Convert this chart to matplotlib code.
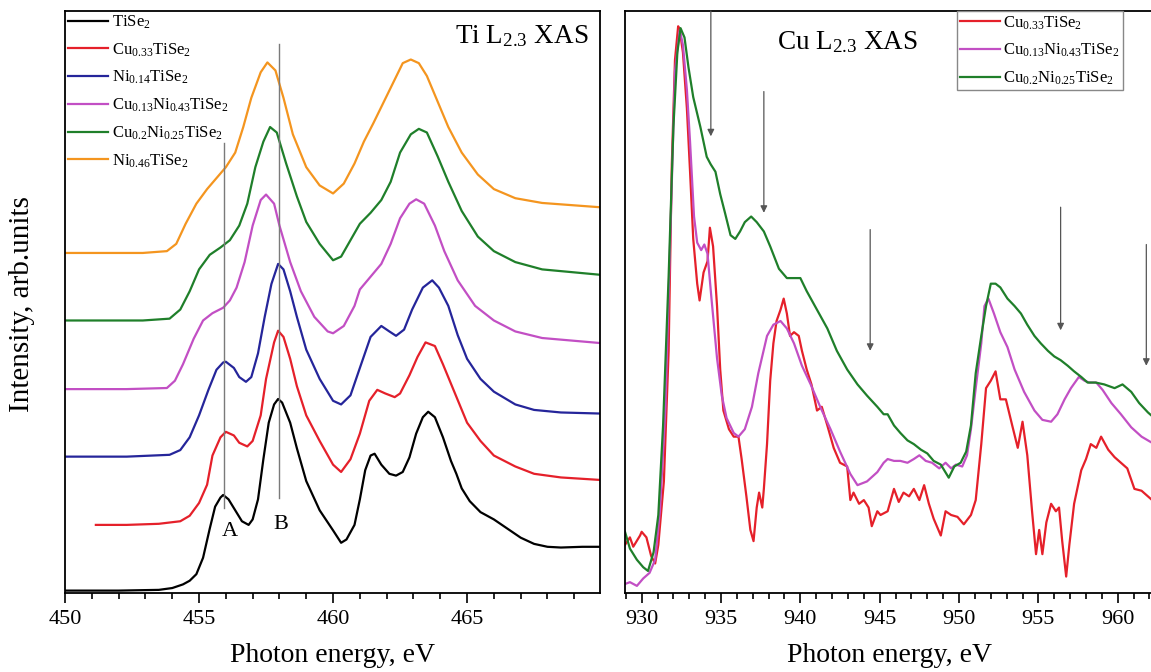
#!/usr/bin/env python3
"""Ti L2,3 and Cu L2,3 XAS spectra of intercalated TiSe2 (two panels, offset curves)."""
import matplotlib
matplotlib.use("Agg")
import matplotlib.pyplot as plt
from matplotlib.ticker import MultipleLocator

plt.rcParams["font.family"] = ["Liberation Serif", "DejaVu Serif"]
plt.rcParams["mathtext.fontset"] = "custom"
plt.rcParams["mathtext.rm"] = "Liberation Serif"
plt.rcParams["mathtext.it"] = "Liberation Serif:italic"

# ---- Ti L2,3 spectra (photon energy eV, intensity arb. units incl. vertical offset) ----
TI_E_TISE2 = [450.0, 452.0, 453.5, 454.0, 454.4, 454.65, 454.9, 455.15, 455.4, 455.6, 455.8, 455.9,
              456.1, 456.35, 456.6, 456.85, 457.0, 457.2, 457.4, 457.6, 457.8, 457.95, 458.1, 458.4,
              458.65, 459.0, 459.5, 460.0, 460.3, 460.5, 460.8, 461.0, 461.2, 461.4, 461.55, 461.8,
              462.1, 462.35, 462.6, 462.85, 463.1, 463.35, 463.55, 463.8, 464.1, 464.4, 464.6, 464.8,
              465.1, 465.5, 466.0, 466.5, 467.0, 467.5, 468.0, 468.5, 469.3, 470.0]
TI_I_TISE2 = [0.35, 0.35, 0.37, 0.42, 0.52, 0.62, 0.80, 1.25, 2.05, 2.65, 2.90, 2.97,
              2.85, 2.55, 2.25, 2.15, 2.30, 2.85, 3.95, 4.95, 5.45, 5.60, 5.50, 4.95,
              4.25, 3.35, 2.55, 2.00, 1.66, 1.75, 2.15, 2.85, 3.65, 4.05, 4.10, 3.80,
              3.55, 3.50, 3.60, 4.00, 4.65, 5.10, 5.25, 5.10, 4.55, 3.90, 3.55, 3.15,
              2.80, 2.50, 2.30, 2.05, 1.80, 1.63, 1.55, 1.53, 1.55, 1.55]

TI_E_CU033 = [451.15, 452.3, 453.5, 454.3, 454.65, 455.0, 455.3, 455.5, 455.8, 456.0, 456.3, 456.5,
              456.8, 457.0, 457.3, 457.5, 457.8, 457.95, 458.15, 458.4, 458.65, 459.0, 459.5, 460.0,
              460.3, 460.65, 461.0, 461.35, 461.65, 461.95, 462.3, 462.5, 462.85, 463.15, 463.45,
              463.8, 464.1, 464.55, 465.0, 465.5, 466.0, 466.8, 467.5, 468.5, 470.0]
TI_I_CU033 = [2.15, 2.15, 2.18, 2.25, 2.40, 2.75, 3.25, 4.05, 4.55, 4.70, 4.60, 4.40,
              4.30, 4.45, 5.15, 6.15, 7.15, 7.47, 7.30, 6.70, 5.95, 5.15, 4.45, 3.80,
              3.60, 3.95, 4.65, 5.55, 5.85, 5.75, 5.65, 5.75, 6.25, 6.75, 7.15,
              7.05, 6.55, 5.75, 4.95, 4.45, 4.05, 3.75, 3.55, 3.45, 3.38]

TI_E_NI014 = [450.0, 452.3, 453.9, 454.3, 454.65, 455.0, 455.35, 455.65, 455.9, 456.0, 456.3, 456.5,
              456.75, 456.95, 457.2, 457.45, 457.7, 457.95, 458.15, 458.4, 458.65, 459.0, 459.5,
              460.0, 460.3, 460.65, 461.0, 461.4, 461.8, 462.1, 462.35, 462.65, 462.95, 463.35,
              463.7, 463.95, 464.3, 464.65, 465.0, 465.5, 466.0, 466.8, 467.5, 468.5, 470.0]
TI_I_NI014 = [4.02, 4.02, 4.07, 4.20, 4.55, 5.15, 5.85, 6.40, 6.60, 6.62, 6.45, 6.20,
              6.07, 6.20, 6.85, 7.85, 8.75, 9.30, 9.15, 8.55, 7.85, 6.95, 6.15,
              5.55, 5.45, 5.70, 6.45, 7.30, 7.60, 7.45, 7.33, 7.50, 8.05, 8.65,
              8.85, 8.65, 8.15, 7.35, 6.70, 6.15, 5.80, 5.45, 5.30, 5.23, 5.20]

TI_E_CUNI1343 = [450.0, 452.3, 453.8, 454.1, 454.4, 454.8, 455.15, 455.5, 455.9, 456.15, 456.4, 456.7,
                 457.0, 457.3, 457.5, 457.8, 458.0, 458.4, 458.8, 459.3, 459.8, 460.0, 460.4, 460.8,
                 461.0, 461.4, 461.8, 462.15, 462.5, 462.85, 463.1, 463.4, 463.8, 464.15, 464.65,
                 465.3, 466.0, 466.8, 467.8, 470.0]
TI_I_CUNI1343 = [5.87, 5.87, 5.90, 6.10, 6.55, 7.25, 7.75, 7.95, 8.10, 8.30, 8.65, 9.35,
                 10.35, 11.05, 11.20, 10.95, 10.35, 9.35, 8.55, 7.85, 7.45, 7.40, 7.60, 8.15,
                 8.60, 8.95, 9.30, 9.85, 10.55, 10.95, 11.07, 10.95, 10.35, 9.65, 8.85,
                 8.15, 7.75, 7.45, 7.27, 7.13]

TI_E_CUNI225 = [450.0, 452.9, 453.9, 454.3, 454.65, 455.0, 455.4, 455.8, 456.15, 456.5, 456.8, 457.1,
                457.4, 457.65, 457.9, 458.25, 458.65, 459.0, 459.5, 460.0, 460.3, 460.65, 461.0,
                461.4, 461.8, 462.15, 462.5, 462.9, 463.2, 463.5, 463.9, 464.3, 464.8, 465.4,
                466.0, 466.8, 467.8, 470.0]
TI_I_CUNI225 = [7.75, 7.75, 7.80, 8.05, 8.55, 9.15, 9.55, 9.75, 9.95, 10.35, 10.95, 11.95,
                12.65, 13.05, 12.90, 12.05, 11.15, 10.45, 9.85, 9.40, 9.50, 9.95, 10.40,
                10.70, 11.05, 11.55, 12.35, 12.85, 13.00, 12.90, 12.25, 11.55, 10.75, 10.05,
                9.65, 9.35, 9.15, 9.00]

TI_E_NI046 = [450.0, 452.9, 453.8, 454.15, 454.5, 454.9, 455.3, 455.65, 456.0, 456.35, 456.65, 456.95,
              457.3, 457.55, 457.85, 458.15, 458.5, 459.0, 459.5, 460.0, 460.4, 460.8, 461.15,
              461.5, 461.9, 462.3, 462.6, 462.9, 463.2, 463.5, 463.9, 464.3, 464.8, 465.4,
              466.0, 466.8, 467.8, 470.0]
TI_I_NI046 = [9.60, 9.60, 9.65, 9.85, 10.40, 10.95, 11.35, 11.65, 11.95, 12.35, 13.05, 13.85,
              14.55, 14.82, 14.60, 13.85, 12.85, 11.95, 11.45, 11.23, 11.50, 12.05, 12.65,
              13.15, 13.75, 14.35, 14.80, 14.90, 14.80, 14.45, 13.75, 13.05, 12.35, 11.75,
              11.35, 11.10, 10.97, 10.85]

# ---- Cu L2,3 spectra --------------------------------------------------------------------
CU_E_CU033 = [928.95, 929.26, 929.47, 929.9, 930.0, 930.3, 930.6, 930.85, 931.05, 931.4, 931.7, 931.9,
              932.1, 932.3, 932.4, 932.6, 932.85, 933.05, 933.25, 933.5, 933.65, 933.9, 934.15, 934.3,
              934.5, 934.75, 934.95, 935.15, 935.5, 935.8, 936.1, 936.3, 936.6, 936.85, 937.05,
              937.25, 937.4, 937.6, 937.7, 937.9, 938.1, 938.3, 938.5, 938.75, 938.95, 939.15,
              939.35, 939.6, 939.9, 940.1, 940.4, 940.7, 941.05, 941.35, 941.7, 942.1, 942.5,
              942.95, 943.15, 943.35, 943.7, 944.0, 944.3, 944.5, 944.85, 945.05, 945.5, 945.9,
              946.2, 946.5, 946.85, 947.15, 947.5, 947.8, 948.1, 948.4, 948.85, 949.15, 949.5,
              949.9, 950.3, 950.75, 951.05, 951.4, 951.7, 952.0, 952.3, 952.6, 952.95, 953.35,
              953.7, 954.0, 954.3, 954.6, 954.85, 955.05, 955.25, 955.5, 955.8, 956.1, 956.3,
              956.5, 956.75, 956.95, 957.25, 957.7, 958.0, 958.3, 958.65, 958.95, 959.4, 959.8,
              960.2, 960.6, 961.05, 961.5, 961.9, 962.3]
CU_I_CU033 = [1.45, 1.65, 1.40, 1.70, 1.80, 1.65, 1.15, 0.95, 1.45, 3.15, 6.65, 11.65,
              14.45, 15.35, 15.25, 14.65, 13.15, 11.45, 9.65, 8.45, 8.00, 8.75, 9.05, 9.95,
              9.45, 7.85, 6.15, 5.05, 4.55, 4.35, 4.35, 3.75, 2.75, 1.85, 1.55,
              2.45, 2.85, 2.45, 2.95, 4.15, 5.85, 6.85, 7.45, 7.75, 8.05, 7.65,
              7.05, 7.15, 7.05, 6.65, 6.15, 5.75, 5.05, 5.15, 4.65, 4.05, 3.65,
              3.55, 2.65, 2.85, 2.55, 2.65, 2.45, 1.95, 2.35, 2.25, 2.35, 2.95,
              2.60, 2.85, 2.75, 2.95, 2.65, 3.05, 2.55, 2.15, 1.70, 2.35, 2.25,
              2.20, 2.00, 2.25, 2.65, 4.15, 5.65, 5.85, 6.10, 5.35, 5.35, 4.65,
              4.05, 4.75, 3.85, 2.35, 1.20, 1.85, 1.20, 2.05, 2.55, 2.35, 2.45,
              1.55, 0.60, 1.45, 2.55, 3.45, 3.75, 4.15, 4.05, 4.35, 4.00, 3.80,
              3.65, 3.50, 2.95, 2.90, 2.75, 2.60]

CU_E_CUNI1343 = [928.95, 929.26, 929.7, 930.1, 930.5, 930.85, 931.15, 931.5, 931.8, 932.1, 932.4, 932.6,
                 932.85, 933.05, 933.3, 933.5, 933.75, 933.95, 934.15, 934.4, 934.75, 935.05, 935.35,
                 935.8, 936.1, 936.5, 936.95, 937.35, 937.9, 938.3, 938.75, 939.15, 939.6, 940.1,
                 940.65, 941.25, 941.9, 942.5, 943.15, 943.6, 944.2, 944.85, 945.25, 945.5, 945.9,
                 946.3, 946.75, 947.15, 947.5, 947.9, 948.3, 948.75, 949.15, 949.5, 949.8, 950.2,
                 950.5, 950.75, 951.05, 951.4, 951.6, 951.85, 952.2, 952.6, 953.05, 953.5, 954.1,
                 954.75, 955.25, 955.8, 956.2, 956.65, 957.05, 957.55, 957.9, 958.2, 958.65, 959.05,
                 959.6, 960.2, 960.85, 961.5, 962.3]
CU_I_CUNI1343 = [0.40, 0.45, 0.35, 0.55, 0.70, 1.05, 2.35, 5.15, 9.65, 14.15, 15.25, 14.85,
                 13.65, 12.25, 10.25, 9.55, 9.35, 9.50, 9.25, 8.05, 6.45, 5.45, 4.85,
                 4.45, 4.35, 4.55, 5.15, 6.05, 7.05, 7.35, 7.45, 7.25, 6.85, 6.25,
                 5.75, 5.15, 4.55, 3.95, 3.35, 3.05, 3.15, 3.40, 3.65, 3.75, 3.70,
                 3.70, 3.65, 3.75, 3.85, 3.70, 3.65, 3.50, 3.65, 3.50, 3.60, 3.55,
                 3.85, 4.55, 5.65, 6.85, 7.85, 8.05, 7.65, 7.15, 6.75, 6.15, 5.55,
                 5.05, 4.80, 4.75, 4.95, 5.35, 5.65, 5.95, 5.85, 5.80, 5.80, 5.60,
                 5.25, 4.95, 4.60, 4.35, 4.15]

CU_E_CUNI225 = [928.95, 929.26, 929.7, 930.1, 930.4, 930.75, 931.05, 931.35, 931.7, 932.0, 932.25, 932.45,
                932.7, 932.95, 933.25, 933.7, 934.1, 934.35, 934.65, 934.95, 935.25, 935.6, 935.9,
                936.2, 936.5, 936.9, 937.25, 937.7, 938.1, 938.65, 939.15, 939.6, 940.0, 940.4,
                941.05, 941.7, 942.3, 942.95, 943.6, 944.2, 944.85, 945.25, 945.5, 945.9, 946.3,
                946.75, 947.15, 947.6, 948.0, 948.4, 948.85, 949.35, 949.7, 950.1, 950.45, 950.75,
                951.05, 951.4, 951.7, 952.0, 952.3, 952.6, 953.05, 953.5, 953.9, 954.3, 954.75,
                955.15, 955.6, 956.0, 956.4, 956.85, 957.25, 957.7, 958.1, 958.6, 959.15, 959.8,
                960.3, 960.85, 961.35, 961.9, 962.3]
CU_I_CUNI225 = [1.80, 1.35, 1.05, 0.85, 0.75, 1.25, 2.25, 4.65, 8.65, 12.65, 14.65, 15.30,
                15.05, 14.25, 13.45, 12.65, 11.85, 11.65, 11.45, 10.85, 10.35, 9.75, 9.65,
                9.85, 10.10, 10.25, 10.10, 9.85, 9.45, 8.85, 8.60, 8.60, 8.60, 8.25,
                7.75, 7.25, 6.65, 6.15, 5.75, 5.45, 5.15, 4.95, 4.95, 4.65, 4.45,
                4.25, 4.15, 4.00, 3.90, 3.70, 3.60, 3.25, 3.55, 3.65, 3.95, 4.65,
                6.05, 7.05, 7.85, 8.45, 8.45, 8.35, 8.05, 7.85, 7.65, 7.35, 7.05,
                6.85, 6.65, 6.50, 6.40, 6.25, 6.10, 5.95, 5.80, 5.80, 5.75, 5.65,
                5.75, 5.55, 5.25, 5.00, 4.85]

# feature markers
PEAK_A, PEAK_B = 455.93, 457.98
CU_ARROWS = [934.36, 937.7, 944.4, 956.4, 961.8]          # arrow positions (eV)
CU_ARROW_TOP = [15.76, 13.60, 9.90, 10.50, 9.50]
CU_ARROW_TIP = [12.40, 10.35, 6.65, 7.20, 6.25]

C_BLACK, C_RED, C_BLUE = "#000000", "#e5202a", "#25259a"
C_MAG, C_GREEN, C_ORANGE = "#c24fc4", "#1f7f2a", "#f4951f"
GUIDE = "#7a7a7a"

TI_SERIES = [
    (TI_E_TISE2, TI_I_TISE2, C_BLACK, r"TiSe$_{2}$"),
    (TI_E_CU033, TI_I_CU033, C_RED, r"Cu$_{0.33}$TiSe$_{2}$"),
    (TI_E_NI014, TI_I_NI014, C_BLUE, r"Ni$_{0.14}$TiSe$_{2}$"),
    (TI_E_CUNI1343, TI_I_CUNI1343, C_MAG, r"Cu$_{0.13}$Ni$_{0.43}$TiSe$_{2}$"),
    (TI_E_CUNI225, TI_I_CUNI225, C_GREEN, r"Cu$_{0.2}$Ni$_{0.25}$TiSe$_{2}$"),
    (TI_E_NI046, TI_I_NI046, C_ORANGE, r"Ni$_{0.46}$TiSe$_{2}$"),
]
CU_SERIES = [
    (CU_E_CU033, CU_I_CU033, C_RED, r"Cu$_{0.33}$TiSe$_{2}$"),
    (CU_E_CUNI1343, CU_I_CUNI1343, C_MAG, r"Cu$_{0.13}$Ni$_{0.43}$TiSe$_{2}$"),
    (CU_E_CUNI225, CU_I_CUNI225, C_GREEN, r"Cu$_{0.2}$Ni$_{0.25}$TiSe$_{2}$"),
]


def style_axis(ax, major):
    ax.xaxis.set_major_locator(MultipleLocator(major))
    ax.xaxis.set_minor_locator(MultipleLocator(1))
    ax.tick_params(axis="x", which="major", direction="out", length=7, width=1.2,
                   labelsize=16, pad=5)
    ax.tick_params(axis="x", which="minor", direction="out", length=4, width=1.2)
    ax.tick_params(axis="y", left=False, labelleft=False)
    for s in ax.spines.values():
        s.set_linewidth(1.3)
    ax.set_xlabel("Photon energy, eV", fontsize=20, labelpad=10)


def main():
    fig = plt.figure(figsize=(11.51, 6.72), dpi=100)
    ax1 = fig.add_axes([0.0565, 0.1176, 0.4648, 0.8661])
    ax2 = fig.add_axes([0.5430, 0.1176, 0.4590, 0.8661])

    # Ti L2,3 panel
    for e, y, c, lab in TI_SERIES:
        ax1.plot(e, y, color=c, lw=1.6, label=lab)
    ax1.plot([PEAK_A, PEAK_A], [2.61, 12.61], color=GUIDE, lw=1.0)
    ax1.plot([PEAK_B, PEAK_B], [2.89, 15.33], color=GUIDE, lw=1.0)
    ax1.text(456.15, 1.96, "A", fontsize=16, ha="center", va="center")
    ax1.text(458.05, 2.15, "B", fontsize=16, ha="center", va="center")
    ax1.text(0.978, 0.944, r"Ti L$_{2.3}$ XAS", transform=ax1.transAxes,
             fontsize=19.5, ha="right", va="baseline")
    ax1.set_xlim(450, 469.96)
    ax1.set_ylim(0.285, 16.23)
    style_axis(ax1, 5)
    ax1.legend(loc="upper left", bbox_to_anchor=(0.0, 1.0), frameon=False, fontsize=12,
               borderaxespad=0.15, borderpad=0.0, handlelength=2.45, handletextpad=0.2,
               labelspacing=0.62)

    # Cu L2,3 panel
    for e, y, c, lab in CU_SERIES:
        ax2.plot(e, y, color=c, lw=1.6, label=lab)
    for x, y0, y1 in zip(CU_ARROWS, CU_ARROW_TOP, CU_ARROW_TIP):
        ax2.annotate("", xy=(x, y1), xytext=(x, y0),
                     arrowprops=dict(arrowstyle="-|>", color="#555555", lw=0.9,
                                     mutation_scale=10, shrinkA=0, shrinkB=0))
    ax2.text(0.287, 0.934, r"Cu L$_{2.3}$ XAS", transform=ax2.transAxes,
             fontsize=19.5, ha="left", va="baseline")
    ax2.set_xlim(928.95, 962.24)
    ax2.set_ylim(0.16, 15.76)
    style_axis(ax2, 5)
    leg = ax2.legend(loc="upper right", bbox_to_anchor=(0.943, 1.0), fontsize=12,
                     fancybox=False, framealpha=1, edgecolor="#888888", borderaxespad=0.0,
                     borderpad=0.2, handlelength=2.4, handletextpad=0.2, labelspacing=0.62)
    leg.get_frame().set_linewidth(1.0)

    fig.text(0.019, 0.547, "Intensity, arb.units", rotation=90, fontsize=21,
             ha="center", va="center")

    fig.savefig("out.png", dpi=100)
    plt.close(fig)


if __name__ == "__main__":
    main()
